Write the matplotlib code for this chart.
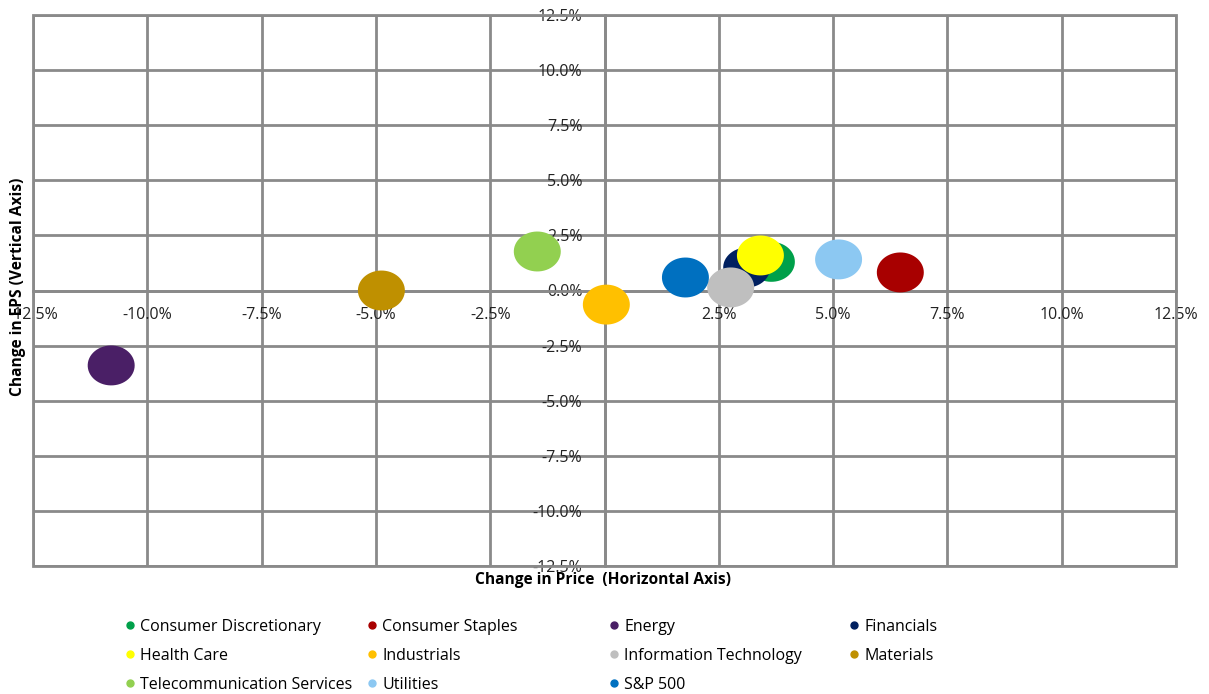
"""Sector bubble chart: change in price vs change in EPS."""

import matplotlib
matplotlib.use("Agg")
import matplotlib.pyplot as plt
import numpy as np
from matplotlib.lines import Line2D
from matplotlib.patches import Rectangle
from matplotlib.path import Path
from matplotlib.ticker import FuncFormatter, MultipleLocator

sectors = [
    "Consumer Discretionary", "Consumer Staples", "Energy", "Financials",
    "Health Care", "Industrials", "Information Technology", "Materials",
    "Telecommunication Services", "Utilities", "S&P 500",
]
price_chg = [3.65, 6.47, -10.79, 3.11, 3.41, 0.04, 2.76, -4.88, -1.47, 5.12, 1.77]
eps_chg = [1.30, 0.82, -3.40, 1.04, 1.59, -0.64, 0.14, 0.00, 1.77, 1.41, 0.59]
colors = [
    "#00A04A", "#A80000", "#4A1F66", "#002060", "#FFFF00", "#FFC000",
    "#BFBFBF", "#BF9000", "#92D050", "#8CC8F2", "#0070C0",
]

grid_col = "#8A8A8A"
plt.rcParams["font.family"] = ["Open Sans", "DejaVu Sans"]

fig = plt.figure(figsize=(12.09, 6.94), dpi=100)
W, H = 1209, 694
ax = fig.add_axes([33 / W, 1 - 566 / H, (1176 - 33) / W, (566 - 15) / H])
ax.set_xlim(-12.5, 12.5)
ax.set_ylim(-12.5, 12.5)

# slightly flattened bubble, as in the source
t = np.linspace(0, 2 * np.pi, 60)
ell = Path(np.column_stack([np.cos(t), 0.85 * np.sin(t)]), closed=True)

for x, y, c in zip(price_chg, eps_chg, colors):
    ax.scatter(x, y, s=1145, marker=ell, color=c, edgecolors="none", zorder=3)

ax.xaxis.set_major_locator(MultipleLocator(2.5))
ax.yaxis.set_major_locator(MultipleLocator(2.5))
fmt = FuncFormatter(lambda v, _: f"{v:.1f}%".replace("\u2212", "-"))
ax.xaxis.set_major_formatter(fmt)
ax.yaxis.set_major_formatter(fmt)
ax.grid(True, color=grid_col, linewidth=2, zorder=1)
ax.set_axisbelow(True)

for side in ["top", "right"]:
    ax.spines[side].set_visible(False)
for side in ["left", "bottom"]:
    ax.spines[side].set_position(("data", 0))
    ax.spines[side].set_color(grid_col)
    ax.spines[side].set_linewidth(2)
ax.tick_params(length=0, labelsize=11.5, colors="#222222")
ax.tick_params(axis="x", pad=12)
ax.tick_params(axis="y", pad=16)

ax.add_patch(Rectangle((0, 0), 1, 1, transform=ax.transAxes, fill=False,
                       edgecolor=grid_col, linewidth=2, clip_on=False, zorder=2))

fig.text(603 / W, 1 - 580 / H, "Change in Price  (Horizontal Axis)",
         ha="center", va="center", fontsize=11.2, fontweight="bold")
fig.text(18 / W, 1 - 287 / H, "Change in EPS (Vertical Axis)",
         ha="center", va="center", fontsize=11.2, fontweight="bold", rotation=90)

# legend: 4 equal-width columns, row-major order
col_x = [125, 367, 609, 849]
for col in range(4):
    idx = list(range(col, len(sectors), 4))
    handles = [Line2D([], [], marker="o", linestyle="none", markersize=5,
                      color=colors[i]) for i in idx]
    fig.legend(handles, [sectors[i] for i in idx], loc="upper left",
               bbox_to_anchor=(col_x[col] / W, 1 - 619 / H), frameon=False,
               fontsize=11.5, handlelength=0.6, handletextpad=0.35,
               labelspacing=0.8, borderaxespad=0, borderpad=0)

fig.savefig("out.png", dpi=100)
